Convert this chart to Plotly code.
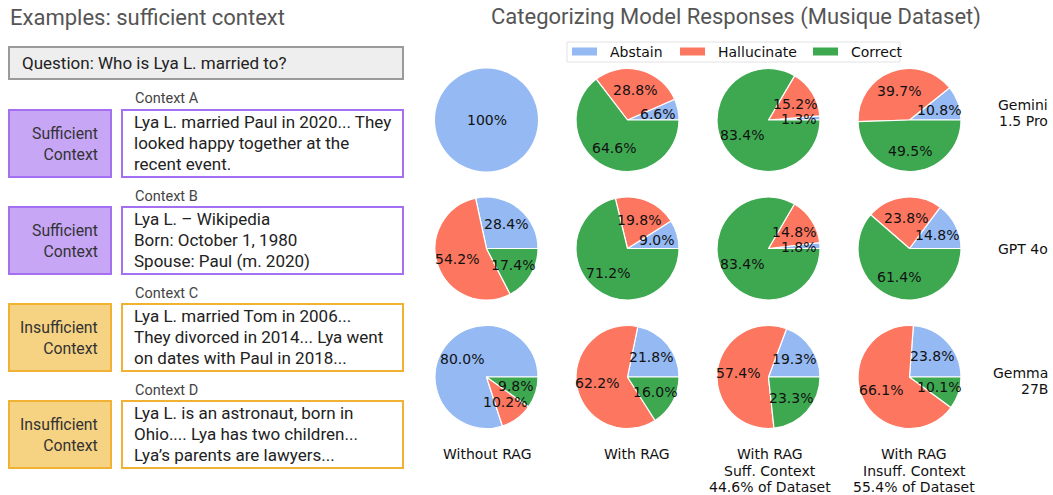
import math
import plotly.graph_objects as go

W, H = 1053, 495

# ---------------- data ----------------
categories = ["Abstain", "Hallucinate", "Correct"]
colors = ["#94b9f3", "#fd7660", "#3ea851"]
conditions = ["Without RAG", "With RAG",
              "With RAG\nSuff. Context\n44.6% of Dataset",
              "With RAG\nInsuff. Context\n55.4% of Dataset"]
models = ["Gemini\n1.5 Pro", "GPT 4o", "Gemma\n27B"]
# each entry: [Abstain, Hallucinate, Correct] for each condition
gemini = [[100.0, 0.0, 0.0], [6.6, 28.8, 64.6], [1.3, 15.2, 83.4], [10.8, 39.7, 49.5]]
gpt4o = [[28.4, 54.2, 17.4], [9.0, 19.8, 71.2], [1.8, 14.8, 83.4], [14.8, 23.8, 61.4]]
gemma = [[80.0, 10.2, 9.8], [21.8, 62.2, 16.0], [19.3, 57.4, 23.3], [23.8, 66.1, 10.1]]
model_values = [gemini, gpt4o, gemma]

question = "Question: Who is Lya L. married to?"
context_names = ["Context A", "Context B", "Context C", "Context D"]
context_kinds = ["Sufficient<br>Context", "Sufficient<br>Context",
                 "Insufficient<br>Context", "Insufficient<br>Context"]
context_lines = [
    ["Lya L. married Paul in 2020... They", "looked happy together at the", "recent event."],
    ["Lya L. \u2013 Wikipedia", "Born: October 1, 1980", "Spouse: Paul (m. 2020)"],
    ["Lya L. married Tom in 2006...", "They divorced in 2014... Lya went", "on dates with Paul in 2018..."],
    ["Lya L. is an astronaut, born in", "Ohio.... Lya has two children...", "Lya\u2019s parents are lawyers..."],
]

# ---------------- helpers ----------------
def px(x):
    return x / W

def py(y):
    return 1 - y / H

fig = go.Figure()
shapes = []
ann = []

MPL = "DejaVu Sans"
GS = "Roboto"
MPL_SIZE = 14

# ---------------- pies ----------------
col_cx = [486.5, 627.5, 768.5, 909.5]
row_cy = [120, 248.5, 377]
R = 51.5
for ri, vals in enumerate(model_values):
    for ci, v in enumerate(vals):
        cx, cy = col_cx[ci], row_cy[ri]
        tot = sum(v)
        fa = v[0] / tot
        full = max(v) == tot
        fig.add_trace(go.Pie(
            labels=categories, values=v, sort=False,
            direction="counterclockwise", rotation=90 - 360 * fa,
            marker=dict(colors=colors, line=dict(color="white", width=0 if full else 1.2)),
            textinfo="none", hoverinfo="label+percent",
            showlegend=False,
            domain=dict(x=[px(cx - R), px(cx + R)], y=[py(cy + R), py(cy - R)]),
        ))
        start = 0.0
        for k, val in enumerate(v):
            f = val / tot
            if val > 0:
                if full:
                    lx, ly = cx, cy
                else:
                    th = 2 * math.pi * (start + f / 2)
                    lx = cx + 0.6 * R * math.cos(th)
                    ly = cy - 0.6 * R * math.sin(th)
                txt = "100%" if val == 100 else f"{val:.1f}%"
                ann.append(dict(x=px(lx), y=py(ly), text=txt, showarrow=False,
                                font=dict(family=MPL, size=MPL_SIZE, color="#111"),
                                xanchor="center", yanchor="middle"))
            start += f

# row labels (right aligned)
row_label_y = [105, 248.5, 373]
for ri, m in enumerate(models):
    for j, line in enumerate(m.split("\n")):
        ann.append(dict(x=px(1050), y=py(row_label_y[ri] + 16 * j), text=line, showarrow=False,
                        font=dict(family=MPL, size=MPL_SIZE, color="#111"), xanchor="right", yanchor="middle"))
# column labels
col_label_x = [487, 637, 770, 914]
for ci, c in enumerate(conditions):
    for j, line in enumerate(c.split("\n")):
        ann.append(dict(x=px(col_label_x[ci]), y=py(454 + 16.5 * j), text=line, showarrow=False,
                        font=dict(family=MPL, size=MPL_SIZE, color="#111"), xanchor="center", yanchor="middle"))

# manual legend (wide swatches like the reference)
shapes.append(dict(type="rect", xref="paper", yref="paper", x0=px(567), x1=px(900), y0=py(62), y1=py(42),
                   fillcolor="white", line=dict(color="#e2e2e2", width=1)))
leg_x = [572, 680, 813]
for k, cat in enumerate(categories):
    shapes.append(dict(type="rect", xref="paper", yref="paper", x0=px(leg_x[k]), x1=px(leg_x[k] + 25),
                       y0=py(55.5), y1=py(47.5), fillcolor=colors[k], line=dict(width=0)))
    ann.append(dict(x=px(leg_x[k] + 36), y=py(51.5), text=cat, showarrow=False,
                    font=dict(family=MPL, size=MPL_SIZE, color="#111"), xanchor="left", yanchor="middle"))

# titles
ann.append(dict(x=px(8), y=py(17), text="Examples: sufficient context", showarrow=False,
                font=dict(family=GS, size=22, color="#555"), xanchor="left", yanchor="middle"))
ann.append(dict(x=px(736), y=py(17), text="Categorizing Model Responses (Musique Dataset)", showarrow=False,
                font=dict(family=GS, size=22, color="#555"), xanchor="center", yanchor="middle"))

# ---------------- left panel ----------------
shapes.append(dict(type="rect", xref="paper", yref="paper", x0=px(9), x1=px(403), y0=py(79), y1=py(47),
                   fillcolor="#eeeeee", line=dict(color="#9a9a9a", width=2)))
ann.append(dict(x=px(20), y=py(63), text=question, showarrow=False,
                font=dict(family=GS, size=17, color="#222"), xanchor="left", yanchor="middle"))

box_tops = [110, 207, 304, 401]
for i in range(4):
    top = box_tops[i]
    bot = top + 67
    suff = i < 2
    fill = "#c7a6f6" if suff else "#f6d283"
    edge = "#a46ff0" if suff else "#f1b233"
    shapes.append(dict(type="rect", xref="paper", yref="paper", x0=px(9), x1=px(111), y0=py(bot), y1=py(top),
                       fillcolor=fill, line=dict(color=edge, width=2)))
    shapes.append(dict(type="rect", xref="paper", yref="paper", x0=px(122), x1=px(403), y0=py(bot), y1=py(top),
                       fillcolor="white", line=dict(color=edge, width=2)))
    ann.append(dict(x=px(100), y=py(top + 34), text=context_kinds[i], showarrow=False, align="right",
                    font=dict(family=GS, size=15.8, color="#333"), xanchor="right", yanchor="middle"))
    ann.append(dict(x=px(133), y=py(top - 11), text=context_names[i], showarrow=False,
                    font=dict(family=GS, size=14.5, color="#444"), xanchor="left", yanchor="middle"))
    for j, line in enumerate(context_lines[i]):
        ann.append(dict(x=px(132), y=py(top + 12 + 21 * j), text=line, showarrow=False,
                        font=dict(family=GS, size=17, color="#222"), xanchor="left", yanchor="middle"))

fig.update_layout(
    width=W, height=H, margin=dict(l=0, r=0, t=0, b=0),
    paper_bgcolor="white", plot_bgcolor="white",
    shapes=shapes, annotations=ann, showlegend=False,
)

fig.write_html("out.html", config={"displayModeBar": False},
               post_script="document.body.style.margin='0';")
